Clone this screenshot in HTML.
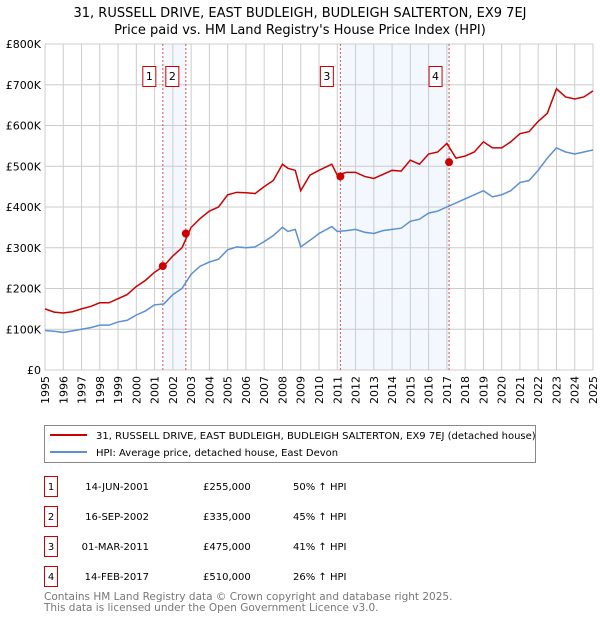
<!DOCTYPE html>
<html><head><meta charset="utf-8"><style>
body{margin:0;background:#fff;font-family:"DejaVu Sans","Liberation Sans",sans-serif;}
svg{display:block}
</style></head><body>
<svg id="c" width="600" height="620" font-family="DejaVu Sans, Liberation Sans, sans-serif">
<text x="300" y="17" text-anchor="middle" font-size="13">31, RUSSELL DRIVE, EAST BUDLEIGH, BUDLEIGH SALTERTON, EX9 7EJ</text>
<text x="300" y="34" text-anchor="middle" font-size="13">Price paid vs. HM Land Registry's House Price Index (HPI)</text>
<g id="plot"></g>
<rect x="44.5" y="425.5" width="491" height="37" fill="none" stroke="#888"/>
<line x1="50" y1="435" x2="87" y2="435" stroke="#cc0000" stroke-width="2"/>
<text x="96" y="439" font-size="10">31, RUSSELL DRIVE, EAST BUDLEIGH, BUDLEIGH SALTERTON, EX9 7EJ (detached house)</text>
<line x1="50" y1="452" x2="87" y2="452" stroke="#5b8fd6" stroke-width="2"/>
<text x="96" y="456" font-size="10">HPI: Average price, detached house, East Devon</text>
<g id="tbl" font-size="10"></g>
<text x="44" y="600" font-size="10.5" fill="#777">Contains HM Land Registry data © Crown copyright and database right 2025.</text>
<text x="44" y="611" font-size="10.5" fill="#777">This data is licensed under the Open Government Licence v3.0.</text>
</svg>
<script>
const hpiYears=[1995,1995.5,1996,1996.5,1997,1997.5,1998,1998.5,1999,1999.5,2000,2000.5,2001,2001.5,2002,2002.5,2003,2003.5,2004,2004.5,2005,2005.5,2006,2006.5,2007,2007.5,2008,2008.3,2008.7,2009,2009.5,2010,2010.7,2011,2011.5,2012,2012.5,2013,2013.5,2014,2014.5,2015,2015.5,2016,2016.5,2017,2017.5,2018,2018.5,2019,2019.5,2020,2020.5,2021,2021.5,2022,2022.5,2023,2023.5,2024,2024.5,2025];
const hpiValues=[97,95,92,96,100,104,110,110,118,122,135,145,160,162,185,200,235,255,265,272,295,302,300,302,315,330,350,340,345,302,318,335,352,340,342,345,338,335,342,345,348,365,370,385,390,400,410,420,430,440,425,430,440,460,465,490,520,545,535,530,535,540];
const priceYears=hpiYears;
const priceValues=[150,142,140,143,150,156,165,165,175,185,205,220,240,255,280,300,350,372,390,400,430,436,435,433,450,465,505,495,490,440,478,490,505,478,485,485,475,470,480,490,488,515,505,530,535,556,520,525,535,560,545,545,560,580,585,610,630,690,670,665,670,685];
const sales=[{n:"1",year:2001.45,value:255,date:"14-JUN-2001",price:"£255,000",pct:"50% ↑ HPI"},{n:"2",year:2002.71,value:335,date:"16-SEP-2002",price:"£335,000",pct:"45% ↑ HPI"},{n:"3",year:2011.17,value:475,date:"01-MAR-2011",price:"£475,000",pct:"41% ↑ HPI"},{n:"4",year:2017.12,value:510,date:"14-FEB-2017",price:"£510,000",pct:"26% ↑ HPI"}];
const yTicks=[0,100,200,300,400,500,600,700,800];
const yTickLabels=["£0","£100K","£200K","£300K","£400K","£500K","£600K","£700K","£800K"];
const xTicks=[1995,1996,1997,1998,1999,2000,2001,2002,2003,2004,2005,2006,2007,2008,2009,2010,2011,2012,2013,2014,2015,2016,2017,2018,2019,2020,2021,2022,2023,2024,2025];
const NS="http://www.w3.org/2000/svg";
const X0=45,X1=593,Y0=370,Y1=44;
const xs=y=>X0+(y-1995)/30*(X1-X0);
const ys=v=>Y0-v/800*(Y0-Y1);
function mk(t,a,p){const e=document.createElementNS(NS,t);for(const k in a)e.setAttribute(k,a[k]);p.appendChild(e);return e;}
const g=document.getElementById('plot');
[[0,1],[2,3]].forEach((pr,i)=>{const r=mk('rect',{x:xs(sales[pr[0]].year),y:Y1,width:xs(sales[pr[1]].year)-xs(sales[pr[0]].year),height:Y0-Y1,fill:'#eef3fd',opacity:0.7},g);

});
yTicks.forEach((v,i)=>{const l=mk('line',{x1:X0,x2:X1,y1:ys(v),y2:ys(v),stroke:'#ccc'},g);


const t=mk('text',{x:X0-4,y:ys(v)+4,'text-anchor':'end','font-size':11},g);t.textContent=yTickLabels[i];

});
xTicks.forEach(y=>{const l=mk('line',{x1:xs(y),x2:xs(y),y1:Y1,y2:Y0,stroke:'#ccc'},g);


const t=mk('text',{transform:`translate(${xs(y)+4},${Y0+34}) rotate(-90)`,'font-size':11},g);t.textContent=y;

});
sales.forEach(s=>{const l=mk('line',{x1:xs(s.year),x2:xs(s.year),y1:Y1,y2:Y0,stroke:'#e05050','stroke-dasharray':'2,2','stroke-width':1},g);


const r=mk('rect',{x:xs(s.year)-20,y:66.5,width:13,height:20,fill:'#fff',stroke:'#cc0000'},g);


const t=mk('text',{x:xs(s.year)-13.5,y:80,'text-anchor':'middle','font-size':11},g);t.textContent=s.n;

});
const line=(xa,va,c,n)=>{const p=mk('polyline',{points:xa.map((y,i)=>xs(y)+','+ys(va[i])).join(' '),fill:'none',stroke:c,'stroke-width':1.5},g);

};
line(hpiYears,hpiValues,'#5b8fd6','hpi-line');
line(priceYears,priceValues,'#cc0000','price-line');
sales.forEach(s=>{const c=mk('circle',{cx:xs(s.year),cy:ys(s.value),r:4,fill:'#cc0000'},g);

});
const tb=document.getElementById('tbl');
sales.forEach((s,i)=>{const y=476+i*30;
const r=mk('rect',{x:44.5,y:y+0.5,width:13,height:20,fill:'none',stroke:'#cc0000'},tb);


const a=mk('text',{x:51,y:y+14,'text-anchor':'middle'},tb);a.textContent=s.n;


const d=mk('text',{x:149,y:y+14,'text-anchor':'end'},tb);d.textContent=s.date;


const p=mk('text',{x:203,y:y+14},tb);p.textContent=s.price;


const h=mk('text',{x:293,y:y+14},tb);h.textContent=s.pct;

});
</script>
</body></html>
